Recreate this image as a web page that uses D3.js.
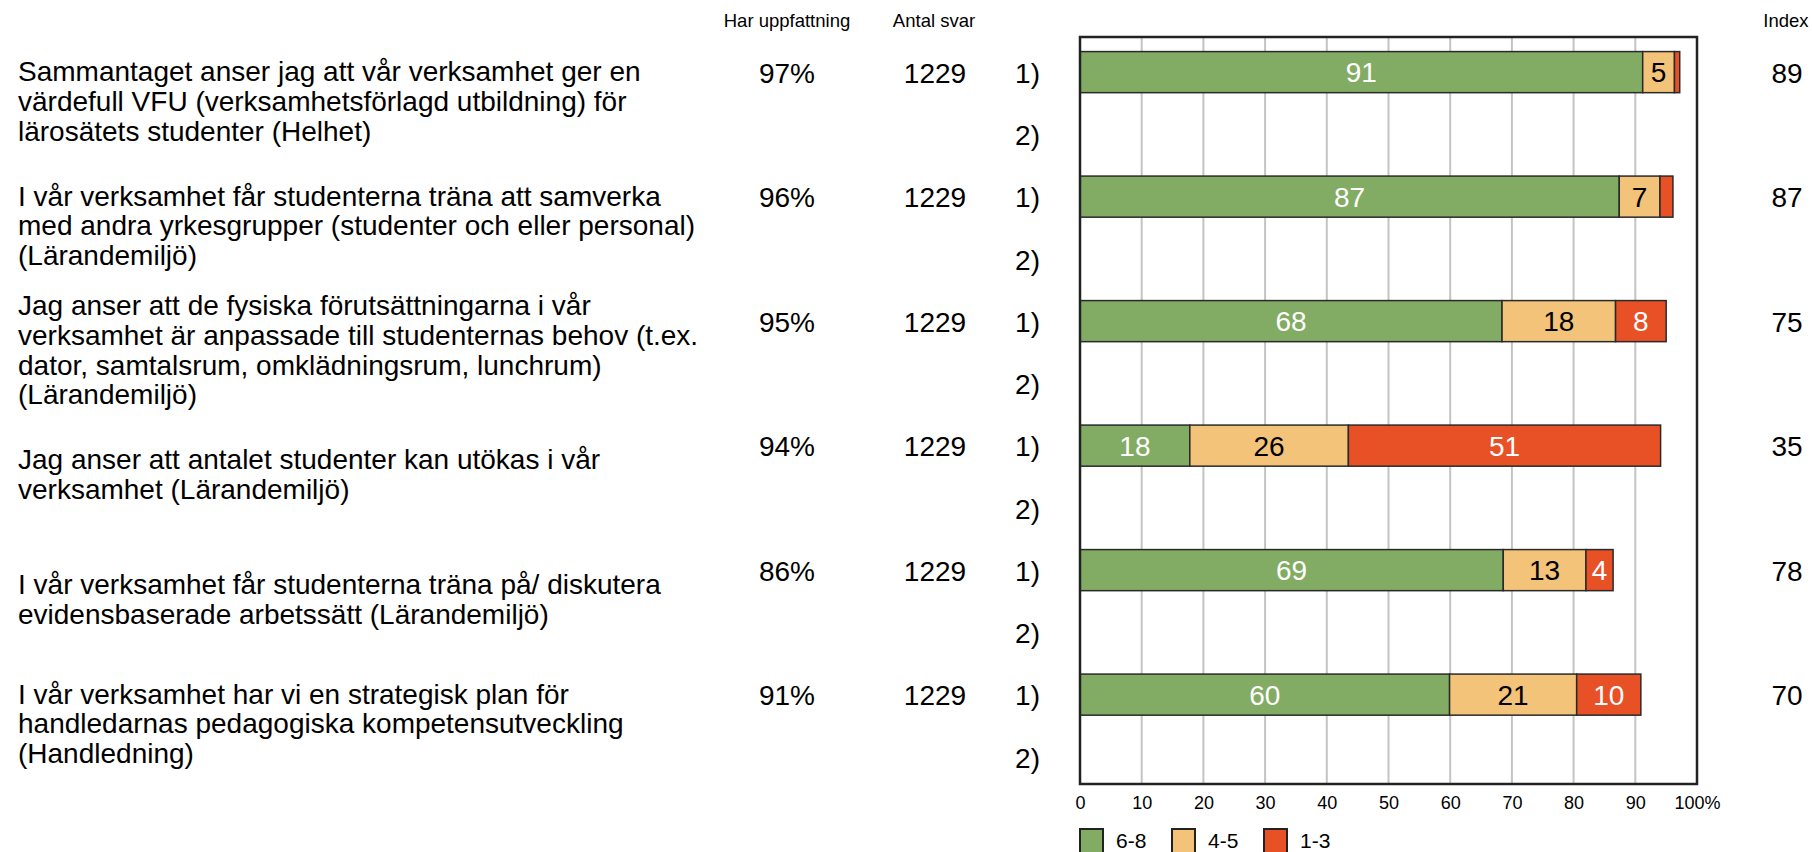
<!DOCTYPE html>
<html>
<head>
<meta charset="utf-8">
<script src="https://cdn.jsdelivr.net/npm/d3@7"></script>
<style>
  body { margin: 0; background: #fff; }
  svg { display: block; font-family: "Liberation Sans", Arial, Helvetica, sans-serif; }
</style>
</head>
<body>
<div id="chart"></div>
<script>
// Question texts, broken into lines as in the report
const questions = [
    ["Sammantaget anser jag att vår verksamhet ger en", "värdefull VFU (verksamhetsförlagd utbildning) för", "lärosätets studenter (Helhet)"],
    ["I vår verksamhet får studenterna träna att samverka", "med andra yrkesgrupper (studenter och eller personal)", "(Lärandemiljö)"],
    ["Jag anser att de fysiska förutsättningarna i vår", "verksamhet är anpassade till studenternas behov (t.ex.", "dator, samtalsrum, omklädningsrum, lunchrum)", "(Lärandemiljö)"],
    ["Jag anser att antalet studenter kan utökas i vår", "verksamhet (Lärandemiljö)"],
    ["I vår verksamhet får studenterna träna på/ diskutera", "evidensbaserade arbetssätt (Lärandemiljö)"],
    ["I vår verksamhet har vi en strategisk plan för", "handledarnas pedagogiska kompetensutveckling", "(Handledning)"]
];
const harUppfattning = [97, 96, 95, 94, 86, 91];
const antalSvar = [1229, 1229, 1229, 1229, 1229, 1229];
const indexValues = [89, 87, 75, 35, 78, 70];

// Answer groups and their shares (percent of all answers)
const categories = ["6-8", "4-5", "1-3"];
const share68 = [91.2, 87.4, 68.4, 17.8, 68.6, 59.9];
const share45 = [5.15, 6.6, 18.4, 25.7, 13.4, 20.6];
const share13 = [0.85, 2.1, 8.2, 50.6, 4.4, 10.4];

const subRows = ["1)", "2)"];
const xTicks = [0, 10, 20, 30, 40, 50, 60, 70, 80, 90, 100];

class StackedBarTable {
    constructor(containerId) {
        this.svg = d3.select(containerId).append("svg")
            .attr("width", 1812)
            .attr("height", 852);
        this.plot = { left: 1080, right: 1697, top: 37, bottom: 784 };
        this.colors = d3.scaleOrdinal().domain(categories).range(["#82ac63", "#f2c378", "#e85026"]);
        this.textColors = { "6-8": "#fff", "4-5": "#000", "1-3": "#fff" };
        this.fontSize = "28px";
    }

    render() {
        const p = this.plot;
        const fs = this.fontSize;
        const rows = questions.map((q, i) => ({
            i: i, "6-8": share68[i], "4-5": share45[i], "1-3": share13[i]
        }));

        // one band per sub row (1) and 2)) of every question
        const bandKeys = d3.cross(d3.range(questions.length), subRows).map(([i, s]) => i + s);
        const y = d3.scaleBand().domain(bandKeys).range([41, 788])
            .paddingInner(0.34).paddingOuter(0.17);
        const x = d3.scaleLinear().domain([0, 100]).range([p.left, p.right]);
        const mid = i => y(i + "1)") + y.bandwidth() / 2;
        const groupMid = i => (mid(i) + y(i + "2)") + y.bandwidth() / 2) / 2;

        // gridlines
        this.svg.append("g").selectAll("line")
            .data(xTicks.filter(d => d > 0 && d < 100))
            .join("line")
            .attr("x1", d => x(d)).attr("x2", d => x(d))
            .attr("y1", p.top).attr("y2", p.bottom)
            .style("stroke", "#c4c4c4")
            .style("stroke-width", 2);

        // stacked bars
        const series = d3.stack().keys(categories)(rows);
        const layers = this.svg.append("g").selectAll("g")
            .data(series)
            .join("g")
            .style("fill", d => this.colors(d.key));
        layers.selectAll("rect")
            .data(d => d)
            .join("rect")
            .attr("x", d => x(d[0]))
            .attr("y", d => y(d.data.i + "1)"))
            .attr("width", d => x(d[1]) - x(d[0]))
            .attr("height", y.bandwidth())
            .style("stroke", "#2a2a2a")
            .style("stroke-width", 1.5);

        // segment labels (too narrow segments stay unlabelled)
        const self = this;
        layers.each(function(s) {
            d3.select(this).selectAll("text")
                .data(s.filter(d => d[1] - d[0] >= 3))
                .join("text")
                .attr("x", d => (x(d[0]) + x(d[1])) / 2)
                .attr("y", d => mid(d.data.i))
                .attr("dy", "0.37em")
                .attr("text-anchor", "middle")
                .style("fill", self.textColors[s.key])
                .style("font-size", fs)
                .text(d => d3.format(".0f")(d[1] - d[0]));
        });

        // frame
        this.svg.append("rect")
            .attr("x", p.left).attr("y", p.top)
            .attr("width", p.right - p.left).attr("height", p.bottom - p.top)
            .style("fill", "none")
            .style("stroke", "#222")
            .style("stroke-width", 2.5);

        // x axis
        const axis = this.svg.append("g")
            .attr("transform", `translate(0,${p.bottom})`)
            .call(d3.axisBottom(x).tickValues(xTicks).tickSize(0).tickPadding(12)
                .tickFormat(d => d === 100 ? "100%" : d));
        axis.select(".domain").remove();
        axis.selectAll("text")
            .style("font-size", "18px")
            .style("font-family", "Liberation Sans, Arial, sans-serif")
            .style("fill", "#000");

        // column headers
        const headers = [["Har uppfattning", 787], ["Antal svar", 934], ["Index", 1786]];
        this.svg.append("g").selectAll("text")
            .data(headers)
            .join("text")
            .attr("x", d => d[1])
            .attr("y", 27)
            .attr("text-anchor", "middle")
            .style("font-size", "18.5px")
            .text(d => d[0]);

        // question texts, centred on the two sub rows
        const lineH = 29.7;
        this.svg.append("g").selectAll("text")
            .data(questions)
            .join("text")
            .attr("y", (d, i) => groupMid(i) - (d.length - 1) / 2 * lineH)
            .attr("dy", "0.27em")
            .style("font-size", fs)
            .selectAll("tspan")
            .data(d => d)
            .join("tspan")
            .attr("x", 18)
            .attr("dy", (d, j) => j === 0 ? null : lineH)
            .text(d => d);

        // value columns
        const cols = [
            [harUppfattning.map(v => v + "%"), 787],
            [antalSvar, 935],
            [indexValues, 1787]
        ];
        cols.forEach(([vals, cx]) => {
            this.svg.append("g").selectAll("text")
                .data(vals)
                .join("text")
                .attr("x", cx)
                .attr("y", (d, i) => mid(i))
                .attr("dy", "0.38em")
                .attr("text-anchor", "middle")
                .style("font-size", fs)
                .text(d => d);
        });

        // sub row markers 1) 2)
        this.svg.append("g").selectAll("text")
            .data(bandKeys)
            .join("text")
            .attr("x", 1040)
            .attr("y", d => y(d) + y.bandwidth() / 2)
            .attr("dy", "0.38em")
            .attr("text-anchor", "end")
            .style("font-size", fs)
            .text(d => d.slice(-2));

        // legend
        const legend = this.svg.append("g").selectAll("g")
            .data(categories)
            .join("g")
            .attr("transform", (d, i) => `translate(${p.left + i * 92},829)`);
        legend.append("rect")
            .attr("width", 23).attr("height", 24)
            .style("fill", d => this.colors(d))
            .style("stroke", "#222")
            .style("stroke-width", 2);
        legend.append("text")
            .attr("x", 36).attr("y", 19)
            .style("font-size", "21px")
            .text(d => d);
    }
}

const chart = new StackedBarTable("#chart");
chart.render();
</script>
</body>
</html>
